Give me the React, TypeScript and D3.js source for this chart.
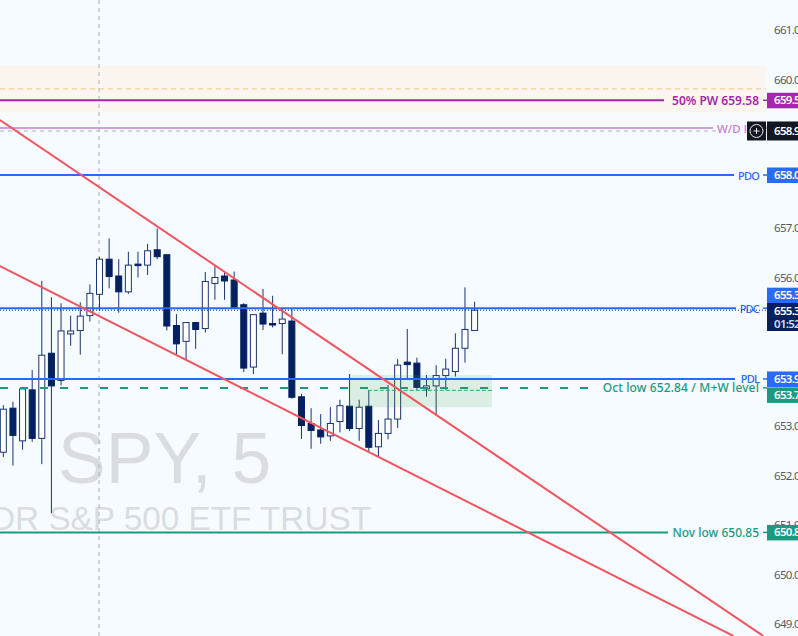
import * as d3 from "d3";

const W = 798;
const H = 636;
const AXIS_X = 767;
const FONT = "'Noto Sans', sans-serif";
const BG = "#f6fbff";

// o, h, l, c per 5 min bar
const opens = [652.47, 653.36, 652.7, 653.73, 652.75, 654.47, 653.92, 654.86, 654.93, 655.23, 655.66, 656.37, 656.03, 655.71, 656.27, 656.25, 656.56, 656.46, 655.03, 654.71, 655.09, 654.97, 655.88, 656.03, 655.95, 655.45, 654.19, 655.28, 655.07, 655.07, 655.12, 653.59, 653.05, 652.92, 652.8, 653.09, 653.4, 652.95, 653.4, 652.58, 652.85, 653.14, 654.29, 654.27, 653.75, 653.81, 654.02, 654.1, 654.57, 654.93];
const highs = [653.42, 653.49, 653.76, 654.13, 655.93, 655.6, 655.48, 655.23, 655.5, 655.86, 656.42, 656.79, 656.37, 656.52, 656.52, 656.68, 656.99, 656.46, 655.26, 655.09, 655.09, 656.11, 656.23, 656.1, 656.12, 655.48, 655.25, 655.77, 655.63, 655.38, 655.38, 653.65, 653.36, 653.24, 653.38, 653.53, 654.05, 653.53, 653.72, 653.12, 653.83, 654.35, 654.96, 654.38, 654.03, 654.23, 654.36, 654.87, 655.8, 655.51];
const lows = [652.37, 652.2, 652.52, 652.68, 652.23, 651.24, 653.82, 654.62, 654.44, 655.11, 655.33, 655.78, 655.29, 655.67, 656.0, 656.05, 656.37, 654.93, 654.44, 654.33, 654.56, 654.89, 655.55, 655.55, 655.4, 654.09, 654.05, 654.94, 654.99, 654.45, 653.55, 652.74, 652.54, 652.64, 652.7, 652.87, 652.9, 652.7, 652.48, 652.39, 652.73, 652.96, 653.96, 653.73, 653.59, 653.22, 653.73, 654.0, 654.28, 654.93];
const closes = [653.34, 652.81, 653.75, 652.75, 654.43, 653.81, 654.92, 654.92, 655.22, 655.68, 656.37, 656.02, 655.71, 656.25, 656.26, 656.54, 656.42, 655.02, 654.66, 655.09, 654.95, 655.92, 656.0, 655.93, 655.4, 654.17, 655.25, 655.06, 655.05, 655.16, 653.58, 653.01, 652.91, 652.78, 653.05, 653.41, 652.95, 653.38, 652.57, 652.85, 653.14, 654.23, 654.24, 653.78, 653.81, 654.02, 654.15, 654.57, 654.95, 655.34];

const priceTicks = [661, 660, 657, 656, 653, 652, 651, 650, 649];

// trend lines: [bar, price] end points
const trendA: [number, number][] = [[-0.35, 659.18], [79, 648.76]];
const trendB: [number, number][] = [[-0.35, 656.23], [75.9, 648.76]];

const sandBand = [660.28, 659.33];
const greenBox = { bars: [35.9, 50.8], prices: [654.03, 653.38] };
const innerLevel = 653.72;
const orangeLevel = 659.81;
const crosshairPrice = 658.96;
const crosshairBar = 9.95;
const lastPrice = 655.34;

const levelNames = ["50% PW 659.58", "W/D level", "PDO", "PDC", "PDL", "Oct low 652.84 / M+W level", "Nov low 650.85"];
const levelPrices = [659.58, 659.02, 658.07, 655.38, 653.95, 653.77, 650.85];
const levelTags = ["659.58", "", "658.07", "655.38", "653.95", "653.77", "650.85"];
const levelColors = ["#a327ab", "#c77bd6", "#2a6af5", "#2a6af5", "#2a6af5", "#1c9a80", "#1c9a80"];

const NAVY = "#04205f";

export default function App() {
  const y = d3.scaleLinear().domain([661, 649]).range([30, 624]);
  const x = d3.scaleLinear().domain([0, 49]).range([3.33, 474.6]);
  const trend = d3.line<[number, number]>().x((d) => x(d[0])).y((d) => y(d[1]));

  // where each level line stops, just left of its label
  const lineEnds = [664, 713, 734, 736, 735, 600, 668];
  const labelEnd = 759;
  // axis tags get pushed apart where they would collide
  const tagShift = [0, 0, 0, -13, 0, 7, 0];

  return (
    <svg
      width={W}
      height={H}
      style={{ position: "absolute", left: 0, top: 0, display: "block", background: BG, fontFamily: FONT }}
    >
      {/* watermark */}
      <g fill="#d9dde1" fontFamily="'Liberation Sans', sans-serif">
        <text x={58} y={483} fontSize={71.5}>SPY, 5</text>
        <text x={371} y={530} fontSize={33.3} textAnchor="end">SPDR S&amp;P 500 ETF TRUST</text>
      </g>

      <rect x={0} y={y(sandBand[0])} width={AXIS_X - 1} height={y(sandBand[1]) - y(sandBand[0])} fill="#faf6ef" />
      <line x1={0} x2={AXIS_X - 1} y1={y(orangeLevel)} y2={y(orangeLevel)} stroke="#f8c27c" strokeDasharray="5 4" />

      {/* crosshair */}
      <line x1={x(crosshairBar)} x2={x(crosshairBar)} y1={0} y2={H} stroke="#aeb2b8" strokeDasharray="4 4" />
      <line x1={0} x2={716} y1={y(crosshairPrice)} y2={y(crosshairPrice)} stroke="#aeb2b8" strokeDasharray="4 4" />

      {/* candles */}
      {opens.map((o, i) => {
        const c = closes[i];
        const up = c >= o;
        const top = y(Math.max(o, c));
        const bot = y(Math.min(o, c));
        return (
          <g key={i}>
            <line x1={x(i)} x2={x(i)} y1={y(highs[i])} y2={y(lows[i])} stroke="#1a3470" />
            <rect
              x={x(i) - 3}
              y={top}
              width={6}
              height={Math.max(bot - top, 1.5)}
              fill={up ? "#ffffff" : NAVY}
              stroke={up ? "#1a3470" : NAVY}
            />
          </g>
        );
      })}

      {/* green zone */}
      <rect
        x={x(greenBox.bars[0])}
        y={y(greenBox.prices[0])}
        width={x(greenBox.bars[1]) - x(greenBox.bars[0])}
        height={y(greenBox.prices[1]) - y(greenBox.prices[0])}
        fill="#4caf50"
        fillOpacity={0.16}
      />
      <line x1={x(37.9)} x2={x(greenBox.bars[1])} y1={y(innerLevel)} y2={y(innerLevel)} stroke="#35b060" strokeDasharray="4 2" />

      {/* levels */}
      {levelNames.map((name, i) => {
        const ly = y(levelPrices[i]);
        const isOct = name.startsWith("Oct");
        const isWd = name === "W/D level";
        const isPd = name.startsWith("PD");
        return (
          <g key={name}>
            <line
              x1={0}
              x2={lineEnds[i]}
              y1={ly}
              y2={ly}
              stroke={levelColors[i]}
              strokeWidth={isWd ? 1.5 : 2}
              strokeDasharray={isOct ? "8 12" : undefined}
            />
            <line x1={763} x2={AXIS_X} y1={ly} y2={ly} stroke={levelColors[i]} strokeWidth={1.5} />
            <text
              x={isWd ? 717 : labelEnd}
              y={ly + 4.5}
              fill={levelColors[i]}
              fontSize={isPd ? 11 : isWd ? 11.5 : 12}
              letterSpacing={isPd ? -0.8 : isOct ? 0.12 : 0}
              fontWeight={name.includes("PW") ? 600 : 500}
              textAnchor={isWd ? "start" : "end"}
            >
              {name}
            </text>
          </g>
        );
      })}
      <line x1={0} x2={AXIS_X} y1={y(lastPrice)} y2={y(lastPrice)} stroke={NAVY} strokeDasharray="1 2" />

      {/* trend lines */}
      <path d={trend(trendA) ?? ""} fill="none" stroke="#f2545f" strokeWidth={2} />
      <path d={trend(trendB) ?? ""} fill="none" stroke="#f2545f" strokeWidth={2} />

      {/* price axis */}
      <g letterSpacing={-0.7} fontSize={11.5}>
        {priceTicks.map((t) => (
          <text key={t} x={774} y={y(t) + 4} fill="#555a60">{t.toFixed(2)}</text>
        ))}
        {levelTags.map((tag, i) => {
          if (!tag) return null;
          const cy = y(levelPrices[i]) + tagShift[i];
          return (
            <g key={tag}>
              <rect x={AXIS_X} y={cy - 7.5} width={W - AXIS_X} height={15.5} fill={levelColors[i]} />
              <text x={774} y={cy + 4} fontWeight={600} fill="#ffffff">{tag}</text>
            </g>
          );
        })}

        {/* crosshair price tag and add button */}
        <rect x={747} y={y(crosshairPrice) - 9.5} width={19} height={19} fill="#131722" />
        <circle cx={756.5} cy={y(crosshairPrice)} r={6.5} fill="none" stroke="#e8e8ea" />
        <path
          d={`M753.5 ${y(crosshairPrice)}h6M756.5 ${y(crosshairPrice) - 3}v6`}
          stroke="#e8e8ea"
        />
        <rect x={AXIS_X} y={y(crosshairPrice) - 9.5} width={W - AXIS_X} height={19} fill="#131722" />
        <text x={774} y={y(crosshairPrice) + 4} fontWeight={600} fill="#ffffff">{crosshairPrice.toFixed(2)}</text>

        {/* last price with countdown */}
        <rect x={AXIS_X} y={303} width={W - AXIS_X} height={28} fill={NAVY} />
        <text x={774} y={315} fontWeight={600} fill="#ffffff">{lastPrice.toFixed(2)}</text>
        <text x={774} y={328} fontWeight={600} fill="#d5dbe8">01:52</text>
      </g>
    </svg>
  );
}
